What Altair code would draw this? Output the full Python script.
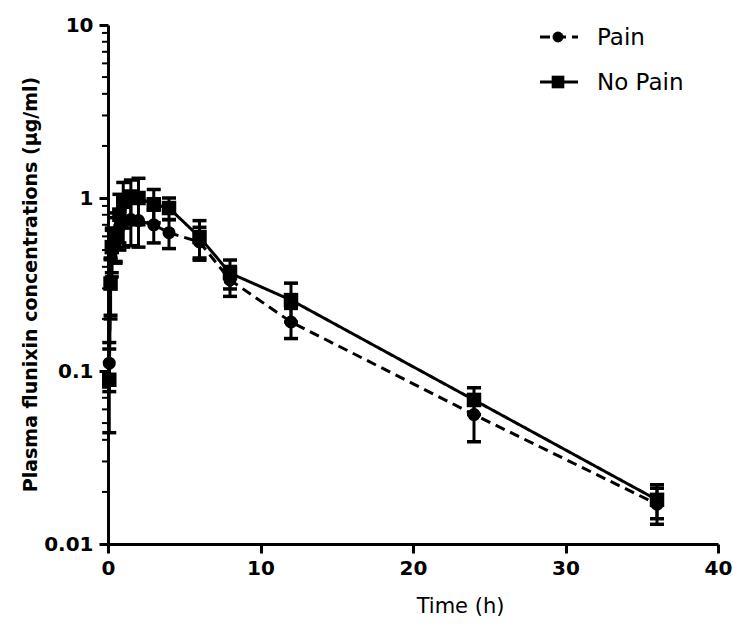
import altair as alt
import pandas as pd

# ---- data ----
times = [0.083, 0.167, 0.25, 0.5, 0.75, 1, 1.5, 2, 3, 4, 6, 8, 12, 24, 36]
pain_mean = [0.111, 0.33, 0.50, 0.60, 0.68, 0.72, 0.75, 0.74, 0.70, 0.63, 0.557, 0.336, 0.192, 0.056, 0.017]
pain_sd = [0.035, 0.12, 0.15, 0.17, 0.18, 0.20, 0.22, 0.22, 0.15, 0.12, 0.12, 0.066, 0.038, 0.017, 0.004]
nopain_mean = [0.089, 0.32, 0.52, 0.62, 0.80, 0.95, 1.02, 1.00, 0.92, 0.875, 0.595, 0.368, 0.257, 0.068, 0.018]
nopain_sd = [0.045, 0.12, 0.15, 0.20, 0.25, 0.28, 0.25, 0.30, 0.20, 0.125, 0.145, 0.07, 0.065, 0.012, 0.004]

x_ticks = [0, 10, 20, 30, 40]
y_major = [0.01, 0.1, 1, 10]
y_minor = [0.02, 0.03, 0.04, 0.05, 0.06, 0.07, 0.08, 0.09,
           0.2, 0.3, 0.4, 0.5, 0.6, 0.7, 0.8, 0.9,
           2, 3, 4, 5, 6, 7, 8, 9]

legend_labels = ["Pain", "No Pain"]


def frame(mean, sd):
    return pd.DataFrame({
        "time": times,
        "mean": mean,
        "lo": [m - s for m, s in zip(mean, sd)],
        "hi": [m + s for m, s in zip(mean, sd)],
    })


df_pain = frame(pain_mean, pain_sd)
df_nopain = frame(nopain_mean, nopain_sd)
df_minor = pd.DataFrame({"v": y_minor})

FONT = "DejaVu Sans"

xscale = alt.Scale(domain=[0, 40], nice=False, zero=False)
yscale = alt.Scale(type="log", domain=[0.01, 10], nice=False)

x_axis = alt.Axis(
    values=x_ticks, title="Time (h)", grid=False,
    domainColor="black", domainWidth=3, tickColor="black", tickWidth=3, tickSize=9,
    labelFont=FONT, labelFontWeight="bold", labelFontSize=20, labelColor="black",
    labelPadding=5, labelFlush=False,
    titleFont=FONT, titleFontWeight="normal", titleFontSize=21, titleColor="black",
    titleX=352, titleY=62, titleBaseline="middle", titleAlign="center",
)
y_axis = alt.Axis(
    values=y_major, title="Plasma flunixin concentrations (µg/ml)", grid=False,
    labelExpr="datum.value >= 1 ? format(datum.value, 'd') : format(datum.value, '~g')",
    domainColor="black", domainWidth=3, tickColor="black", tickWidth=3, tickSize=9,
    labelFont=FONT, labelFontWeight="bold", labelFontSize=20, labelColor="black",
    labelPadding=6, labelFlush=False,
    titleFont=FONT, titleFontWeight="bold", titleFontSize=19, titleColor="black",
    titleX=-78, titleY=259, titleBaseline="middle", titleAlign="center", titleAngle=270,
)


def group_layers(df, dash, shape, size):
    base = alt.Chart(df)
    X = alt.X("time:Q", scale=xscale, axis=x_axis)
    line = base.mark_line(color="black", strokeWidth=3, strokeDash=dash).encode(
        x=X, y=alt.Y("mean:Q", scale=yscale, axis=y_axis))
    bars = base.mark_rule(color="black", strokeWidth=3).encode(
        x=X, y=alt.Y("lo:Q", scale=yscale, axis=y_axis), y2="hi:Q")
    cap_lo = base.mark_tick(color="black", thickness=3.5, size=14, orient="horizontal", opacity=1).encode(
        x=X, y=alt.Y("lo:Q", scale=yscale, axis=y_axis))
    cap_hi = base.mark_tick(color="black", thickness=3.5, size=14, orient="horizontal", opacity=1).encode(
        x=X, y=alt.Y("hi:Q", scale=yscale, axis=y_axis))
    pts = base.mark_point(filled=True, color="black", opacity=1, shape=shape, size=size).encode(
        x=X, y=alt.Y("mean:Q", scale=yscale, axis=y_axis))
    return [line, bars, cap_lo, cap_hi, pts]


minor = alt.Chart(df_minor).mark_rule(color="black", strokeWidth=2).encode(
    y=alt.Y("v:Q", scale=yscale, axis=y_axis),
    x=alt.value(-6), x2=alt.value(0))

# legend (custom, drawn as marks)
leg_df = pd.DataFrame({"label": legend_labels})


def legend_row(i, dash, shape, size, yy):
    d = leg_df.iloc[[i]]
    line = alt.Chart(d).mark_rule(color="black", strokeWidth=3, strokeDash=dash).encode(
        x=alt.value(432), x2=alt.value(470), y=alt.value(yy))
    pt = alt.Chart(d).mark_point(filled=True, color="black", opacity=1, shape=shape, size=size).encode(
        x=alt.value(450), y=alt.value(yy))
    txt = alt.Chart(d).mark_text(align="left", baseline="middle", font=FONT, fontSize=23,
                                 color="black").encode(
        x=alt.value(489), y=alt.value(yy + 1), text="label:N")
    return [line, pt, txt]


layers = [minor]
layers += group_layers(df_pain, [10, 6], "circle", 170)
layers += group_layers(df_nopain, [1, 0], "square", 210)
layers += legend_row(0, [10, 6], "circle", 120, 12)
layers += legend_row(1, [1, 0], "square", 160, 57)

chart = alt.layer(*layers).properties(
    width=610, height=519,
    autosize=alt.AutoSizeParams(type="none"),
    padding={"left": 108, "top": 25, "right": 16, "bottom": 84},
    background="white",
).configure_view(stroke=None)

chart.save("out.html", embed_options={"renderer": "svg", "actions": False})
